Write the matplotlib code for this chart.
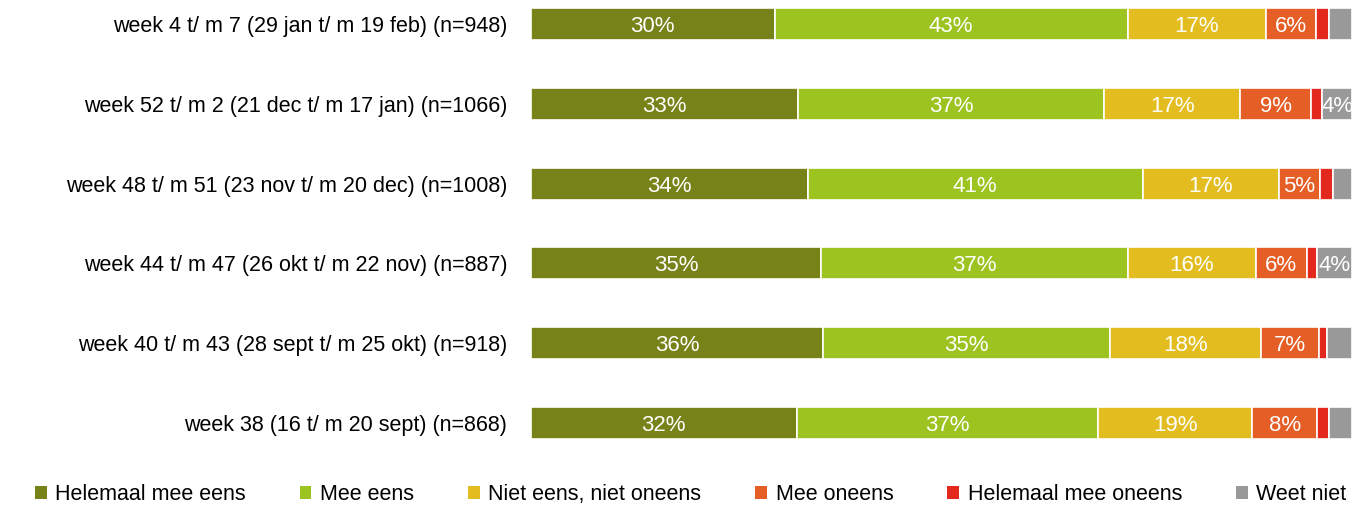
import numpy as np
import matplotlib
matplotlib.use('Agg')
from matplotlib import pyplot as plt
from matplotlib.patches import Patch

plt.rcParams['font.family'] = ['Liberation Sans', 'DejaVu Sans']

# Data (bottom to top)
periods = [
    'week 38 (16 t/ m 20 sept) (n=868)',
    'week 40 t/ m 43 (28 sept t/ m 25 okt) (n=918)',
    'week 44 t/ m 47 (26 okt t/ m 22 nov) (n=887)',
    'week 48 t/ m 51 (23 nov t/ m 20 dec) (n=1008)',
    'week 52 t/ m 2 (21 dec t/ m 17 jan) (n=1066)',
    'week 4 t/ m 7 (29 jan t/ m 19 feb) (n=948)',
]
categories = ['Helemaal mee eens', 'Mee eens', 'Niet eens, niet oneens',
              'Mee oneens', 'Helemaal mee oneens', 'Weet niet']
helemaal_eens = [32.4, 35.6, 35.4, 33.7, 32.6, 29.7]
mee_eens = [36.7, 34.9, 37.3, 40.8, 37.2, 43.0]
neutraal = [18.7, 18.4, 15.6, 16.6, 16.6, 16.8]
mee_oneens = [8.0, 7.1, 6.2, 5.0, 8.6, 6.1]
helemaal_oneens = [1.4, 1.0, 1.3, 1.6, 1.4, 1.6]
weet_niet = [2.8, 3.0, 4.2, 2.3, 3.6, 2.8]

colors = ['#778218', '#9cc31f', '#e3bd1f', '#e45e26', '#e3281e', '#999999']
series = [helemaal_eens, mee_eens, neutraal, mee_oneens, helemaal_oneens, weet_niet]

fig = plt.figure(figsize=(13.54, 5.05), dpi=100)
ax = fig.add_axes([0.392, 0.1307, 0.6065, 0.8535])

y = np.arange(len(periods))
left = np.zeros(len(periods))
for vals, col in zip(series, colors):
    vals = np.array(vals)
    ax.barh(y, vals, left=left, height=0.4, color=col, edgecolor='white', linewidth=1.2)
    for yi, l, v in zip(y, left, vals):
        if v >= 3.5:
            ax.text(l + v / 2, yi, f'{int(v + 0.5)}%', ha='center', va='center_baseline',
                    color='white', fontsize=16)
    left += vals

ax.set_xlim(0, 100)
ax.set_ylim(-0.2, 5.2)
ax.set_yticks(y)
ax.set_yticklabels(periods, fontsize=15.5)
ax.set_xticks([])
ax.tick_params(axis='y', length=0, pad=17)
for s in ax.spines.values():
    s.set_visible(False)

handles = [Patch(facecolor=c, edgecolor='none') for c in colors]
fig.legend(handles, categories, loc='center', bbox_to_anchor=(0.51, 0.02),
           ncol=6, frameon=False, fontsize=15.5, handlelength=0.55, handleheight=0.55,
           handletextpad=0.4, columnspacing=2.5)

fig.savefig('out.png', dpi=100)
